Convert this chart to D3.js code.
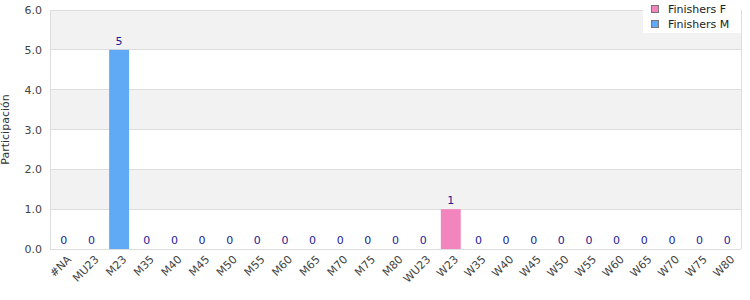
<!DOCTYPE html>
<html><head><meta charset="utf-8">
<script src="https://cdn.jsdelivr.net/npm/d3@7"></script>
<style>
body{margin:0;background:#fff;}
text{font-family:"DejaVu Sans",sans-serif;}
</style></head>
<body><svg id="c" width="750" height="300"></svg>
<script>
const categories=["#NA","MU23","M23","M35","M40","M45","M50","M55","M60","M65","M70","M75","M80","WU23","W23","W35","W40","W45","W50","W55","W60","W65","W70","W75","W80"];
const finishersF=[0,0,0,0,0,0,0,0,0,0,0,0,0,0,1,0,0,0,0,0,0,0,0,0,0];
const finishersM=[0,0,5,0,0,0,0,0,0,0,0,0,0,0,0,0,0,0,0,0,0,0,0,0,0];
const yTicks=[0,1,2,3,4,5,6];
const seriesNames=["Finishers F","Finishers M"];
const colors=["#f285bd","#60a9f4"];

const svg=d3.select("#c");
const m={l:50,r:9,t:10,b:51};
const W=750,H=300;
const x=d3.scaleBand().domain(categories).range([m.l,W-m.r]).paddingInner(0.28).paddingOuter(0.14);
const y=d3.scaleLinear().domain([0,6]).range([H-m.b,m.t]);

const g=svg.append("g");
for(let i=0;i<6;i++){
  g.append("rect").attr("x",m.l).attr("width",W-m.r-m.l)
   .attr("y",y(i+1)).attr("height",y(i)-y(i+1))
   .attr("fill",i%2===1?"#f2f2f2":"#ffffff");
}
yTicks.forEach(t=>{
  g.append("line").attr("x1",m.l).attr("x2",W-m.r).attr("y1",y(t)).attr("y2",y(t))
   .attr("stroke","#dddddd").attr("stroke-width",1).attr("shape-rendering","crispEdges");
});
g.append("line").attr("x1",m.l).attr("x2",m.l).attr("y1",m.t).attr("y2",H-m.b).attr("stroke","#dddddd").attr("shape-rendering","crispEdges");
g.append("line").attr("x1",W-m.r).attr("x2",W-m.r).attr("y1",m.t).attr("y2",H-m.b).attr("stroke","#dddddd").attr("shape-rendering","crispEdges");

const stack=d3.stack().keys([0,1]).value((d,k)=>d[k]);
const rows=categories.map((c,i)=>[finishersF[i],finishersM[i]]);
const stacked=stack(rows);
stacked.forEach((s,k)=>{
  svg.append("g").selectAll("rect").data(s).join("rect")
   .attr("x",(d,i)=>x(categories[i])).attr("width",x.bandwidth())
   .attr("y",d=>y(d[1])).attr("height",d=>y(d[0])-y(d[1]))
   .attr("fill",colors[k]);
});
svg.append("g").selectAll("text").data(categories).join("text")
 .attr("x",c=>x(c)+x.bandwidth()/2)
 .attr("y",(c,i)=>y(finishersF[i]+finishersM[i])-5)
 .attr("text-anchor","middle").attr("font-size",11).attr("fill","#1c1c96")
 .text((c,i)=>finishersF[i]+finishersM[i]);

const ya=svg.append("g").attr("transform",`translate(${m.l},0)`)
 .call(d3.axisLeft(y).tickValues(yTicks).tickFormat(d3.format(".1f")).tickSize(0).tickPadding(8));
ya.select(".domain").remove();
ya.selectAll("text").attr("font-size",11).attr("fill","#444").attr("font-family","DejaVu Sans");

const xa=svg.append("g").attr("transform",`translate(0,${H-m.b})`)
 .call(d3.axisBottom(x).tickSize(0).tickPadding(7));
xa.select(".domain").remove();
xa.selectAll("text").attr("font-size",11).attr("fill","#444").attr("font-family","DejaVu Sans")
 .attr("text-anchor","end").attr("dx","-0.2em").attr("dy","0.6em")
 .attr("transform","rotate(-45)");

svg.append("text").attr("transform",`translate(9,${(m.t+H-m.b)/2}) rotate(-90)`)
 .attr("text-anchor","middle").attr("font-size",11).attr("fill","#333").text("Participación");

const lg=svg.append("g");
lg.append("rect").attr("x",643).attr("y",0).attr("width",98).attr("height",33).attr("fill","#fff");
seriesNames.forEach((n,i)=>{
  lg.append("rect").attr("x",651.5).attr("y",5.5+i*15).attr("width",7).attr("height",7)
   .attr("fill",colors[i]).attr("stroke","#777").attr("stroke-width",1);
  lg.append("text").attr("x",668).attr("y",12.5+i*15).attr("font-size",11).attr("fill","#222").text(n);
});
</script></body></html>
